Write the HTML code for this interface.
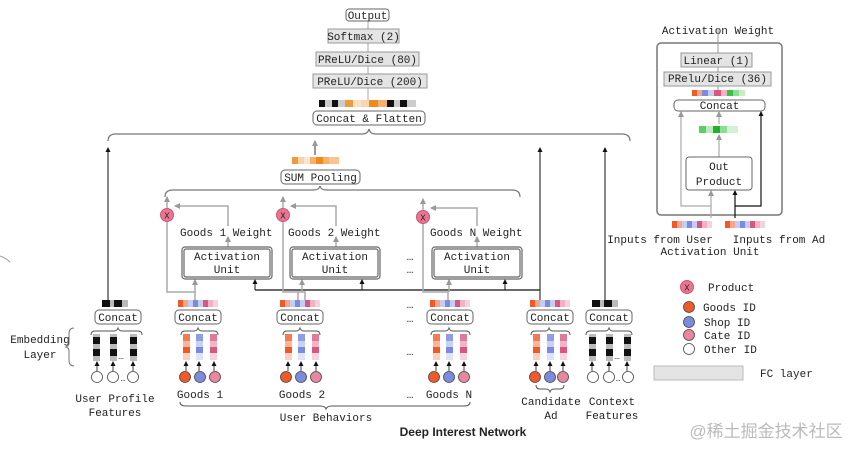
<!DOCTYPE html>
<html><head><meta charset="utf-8"><style>
html,body{margin:0;padding:0;background:#fff;}
svg{display:block;}
text{font-family:"Liberation Mono",monospace;font-size:11px;fill:#222;}
</style></head><body>
<svg width="862" height="456" viewBox="0 0 862 456" xmlns="http://www.w3.org/2000/svg">
<defs>
<marker id="ag" markerWidth="6" markerHeight="6" refX="5" refY="3" orient="auto" markerUnits="userSpaceOnUse" viewBox="0 0 6 6"><path d="M0,0 L6,3 L0,6z" fill="#999"/></marker>
<marker id="ab" markerWidth="5" markerHeight="5" refX="4" refY="2.5" orient="auto" markerUnits="userSpaceOnUse" viewBox="0 0 5 5"><path d="M0,0 L5,2.5 L0,5z" fill="#111"/></marker>
<g id="co"><rect x="0" y="0" width="7" height="7" fill="#f47a52"/><rect x="0" y="7" width="7" height="6" fill="#f8b59c"/><rect x="0" y="13" width="7" height="6" fill="#f05a28"/><rect x="0" y="19" width="7" height="7" fill="#fbd0c0"/></g>
<g id="cb"><rect x="0" y="0" width="7" height="7" fill="#8f9de3"/><rect x="0" y="7" width="7" height="6" fill="#c9d0f3"/><rect x="0" y="13" width="7" height="6" fill="#7b8cde"/><rect x="0" y="19" width="7" height="7" fill="#dfe3f8"/></g>
<g id="cp"><rect x="0" y="0" width="7" height="7" fill="#e07a99"/><rect x="0" y="7" width="7" height="6" fill="#f0b5c6"/><rect x="0" y="13" width="7" height="6" fill="#d9577f"/><rect x="0" y="19" width="7" height="7" fill="#f6d2dd"/></g>
<g id="ck"><rect x="0" y="0" width="7" height="7" fill="#bbb"/><rect x="0" y="3" width="7" height="7" fill="#111"/><rect x="0" y="10" width="7" height="6" fill="#bbb"/><rect x="0" y="15" width="7" height="7" fill="#111"/><rect x="0" y="22" width="7" height="5" fill="#bbb"/></g>
<g id="sg"><rect x="0" y="0" width="5" height="7" fill="#f05a28"/><rect x="5" y="0" width="5" height="7" fill="#f7a58a"/><rect x="10" y="0" width="5" height="7" fill="#c5cdf2"/><rect x="15" y="0" width="5" height="7" fill="#7b8cde"/><rect x="20" y="0" width="5" height="7" fill="#c5cdf2"/><rect x="25" y="0" width="5" height="7" fill="#d9577f"/><rect x="30" y="0" width="5" height="7" fill="#f0b2c4"/><rect x="35" y="0" width="5" height="7" fill="#f6d2dd"/></g>
<g id="sk"><rect x="0" y="0" width="8" height="7" fill="#111"/><rect x="8" y="0" width="4" height="7" fill="#bbb"/><rect x="12" y="0" width="8" height="7" fill="#111"/><rect x="20" y="0" width="6" height="7" fill="#bbb"/></g>
</defs>

<!-- top stack -->
<line x1="368" y1="15" x2="368" y2="104" stroke="#aaa" stroke-width="1"/>
<rect x="346" y="9" width="43" height="12" rx="3" fill="#fff" stroke="#666"/>
<text x="367.5" y="19" text-anchor="middle">Output</text>
<rect x="328" y="29" width="71" height="14" fill="#e4e4e4" stroke="#999"/>
<text x="363.5" y="40" text-anchor="middle">Softmax (2)</text>
<rect x="316" y="52" width="103" height="14" fill="#e4e4e4" stroke="#999"/>
<text x="367.5" y="63" text-anchor="middle">PReLU/Dice (80)</text>
<rect x="313" y="74" width="114" height="14" fill="#e4e4e4" stroke="#999"/>
<text x="370" y="85" text-anchor="middle">PReLU/Dice (200)</text>
<g>
<rect x="319" y="100" width="6" height="7" fill="#111"/><rect x="325" y="100" width="7" height="7" fill="#ccc"/><rect x="332" y="100" width="6" height="7" fill="#111"/><rect x="338" y="100" width="7" height="7" fill="#ccc"/><rect x="345" y="100" width="8" height="7" fill="#f09a3c"/><rect x="353" y="100" width="8" height="7" fill="#fbe0c4"/><rect x="361" y="100" width="8" height="7" fill="#fcd5b0"/><rect x="369" y="100" width="9" height="7" fill="#ee8a1e"/><rect x="378" y="100" width="9" height="7" fill="#f6b26c"/><rect x="387" y="100" width="7" height="7" fill="#111"/><rect x="394" y="100" width="6" height="7" fill="#ccc"/><rect x="400" y="100" width="7" height="7" fill="#111"/><rect x="407" y="100" width="9" height="7" fill="#ccc"/>
</g>
<rect x="313" y="111" width="112" height="14" rx="4" fill="#fff" stroke="#666"/>
<text x="369" y="122" text-anchor="middle">Concat &amp; Flatten</text>
<path d="M108,141 Q108,134 116,134 L362,134 Q368,134 369,129 Q370,134 376,134 L622,134 Q630,134 630,141" fill="none" stroke="#777" stroke-width="1.2"/>

<line x1="108" y1="300" x2="108" y2="148" stroke="#111" marker-end="url(#ab)"/>
<line x1="540" y1="300" x2="540" y2="148" stroke="#111" marker-end="url(#ab)"/>
<line x1="605" y1="300" x2="605" y2="148" stroke="#111" marker-end="url(#ab)"/>

<line x1="315" y1="155" x2="315" y2="141" stroke="#999" stroke-width="2" marker-end="url(#ag)"/>
<g><rect x="292" y="157" width="6" height="7" fill="#f09a3c"/><rect x="298" y="157" width="6" height="7" fill="#fbd2a8"/><rect x="304" y="157" width="6" height="7" fill="#fde6d0"/><rect x="310" y="157" width="6" height="7" fill="#f6b26c"/><rect x="316" y="157" width="7" height="7" fill="#ee8a1e"/><rect x="323" y="157" width="6" height="7" fill="#f6b26c"/><rect x="329" y="157" width="10" height="7" fill="#f9c48f"/></g>
<rect x="281" y="170" width="79" height="14" rx="4" fill="#fff" stroke="#666"/>
<text x="320.5" y="181" text-anchor="middle">SUM Pooling</text>
<path d="M165,197 Q165,190 173,190 L314,190 Q319,190 320,186 Q321,190 326,190 L512,190 Q520,190 520,197" fill="none" stroke="#777" stroke-width="1.2"/>

<polyline points="255,290 540,290" fill="none" stroke="#111" stroke-width="1.2"/>
<line x1="255" y1="290" x2="255" y2="280" stroke="#111" marker-end="url(#ab)"/>
<line x1="362" y1="290" x2="362" y2="280" stroke="#111" marker-end="url(#ab)"/>
<line x1="505" y1="290" x2="505" y2="280" stroke="#111" marker-end="url(#ab)"/>

<g stroke="#aaa" stroke-width="1.5" fill="none">
<polyline points="195,300 195,292 167,292 167,222"/>
<line x1="195" y1="292" x2="195" y2="280" marker-end="url(#ag)"/>
<line x1="228" y1="247" x2="228" y2="237" marker-end="url(#ag)"/>
<polyline points="228,226 228,206 175,206" marker-end="url(#ag)"/>
<line x1="167" y1="208" x2="167" y2="197" marker-end="url(#ag)"/>
<polyline points="305,300 305,292 283,292 283,222"/>
<polyline points="298,300 298,292"/>
<line x1="302" y1="292" x2="302" y2="280" marker-end="url(#ag)"/>
<line x1="336" y1="247" x2="336" y2="237" marker-end="url(#ag)"/>
<polyline points="336,226 336,206 291,206" marker-end="url(#ag)"/>
<line x1="283" y1="208" x2="283" y2="197" marker-end="url(#ag)"/>
<polyline points="448,300 448,292 423,292 423,224"/>
<line x1="449" y1="292" x2="449" y2="280" marker-end="url(#ag)"/>
<line x1="477" y1="247" x2="477" y2="237" marker-end="url(#ag)"/>
<polyline points="477,226 477,208 431,208" marker-end="url(#ag)"/>
<line x1="423" y1="210" x2="423" y2="199" marker-end="url(#ag)"/>
</g>
<g fill="#e8768f" stroke="#d05575"><circle cx="167" cy="215" r="6.5"/><circle cx="283" cy="215" r="6.5"/><circle cx="423" cy="217" r="6.5"/></g>
<text x="167" y="218.5" text-anchor="middle" style="font-size:9px">X</text><text x="283" y="218.5" text-anchor="middle" style="font-size:9px">X</text><text x="423" y="220.5" text-anchor="middle" style="font-size:9px">X</text>
<text x="180" y="236">Goods 1 Weight</text>
<text x="288" y="236">Goods 2 Weight</text>
<text x="430" y="236">Goods N Weight</text>
<g fill="#fff" stroke="#666" stroke-width="1.2">
<rect x="182" y="247" width="90" height="32" rx="3"/><rect x="184" y="249" width="86" height="28" rx="2"/>
<rect x="290" y="247" width="90" height="32" rx="3"/><rect x="292" y="249" width="86" height="28" rx="2"/>
<rect x="432" y="247" width="90" height="32" rx="3"/><rect x="434" y="249" width="86" height="28" rx="2"/>
</g>
<text x="227" y="260" text-anchor="middle">Activation</text><text x="227" y="273" text-anchor="middle">Unit</text>
<text x="335" y="260" text-anchor="middle">Activation</text><text x="335" y="273" text-anchor="middle">Unit</text>
<text x="477" y="260" text-anchor="middle">Activation</text><text x="477" y="273" text-anchor="middle">Unit</text>
<g fill="#666"><text x="410" y="260" text-anchor="middle">…</text><text x="410" y="273" text-anchor="middle">…</text><text x="410" y="308" text-anchor="middle">…</text><text x="410" y="322" text-anchor="middle">…</text><text x="410" y="355" text-anchor="middle">…</text><text x="410" y="398" text-anchor="middle">…</text></g>

<use href="#sk" x="102" y="300"/>
<use href="#sg" x="178" y="300"/>
<use href="#sg" x="280" y="300"/>
<use href="#sg" x="430" y="300"/>
<use href="#sg" x="530" y="300"/>
<use href="#sk" x="592" y="300"/>
<g fill="#fff" stroke="#666">
<rect x="95" y="310" width="46" height="14" rx="4"/>
<rect x="175" y="310" width="46" height="14" rx="4"/>
<rect x="277" y="310" width="46" height="14" rx="4"/>
<rect x="427" y="310" width="46" height="14" rx="4"/>
<rect x="527" y="310" width="46" height="14" rx="4"/>
<rect x="586" y="310" width="46" height="14" rx="4"/>
</g>
<text x="118" y="321" text-anchor="middle">Concat</text>
<text x="198" y="321" text-anchor="middle">Concat</text>
<text x="300" y="321" text-anchor="middle">Concat</text>
<text x="450" y="321" text-anchor="middle">Concat</text>
<text x="550" y="321" text-anchor="middle">Concat</text>
<text x="609" y="321" text-anchor="middle">Concat</text>
<g fill="none" stroke="#555" stroke-width="1">
<path d="M91,335 Q91,331 95,331 L114,331 Q117,331 118,328 Q119,331 122,331 L138,331 Q142,331 142,335"/>
<path d="M181,335 Q181,331 185,331 L194,331 Q197,331 198,328 Q199,331 202,331 L214,331 Q218,331 218,335"/>
<path d="M283,335 Q283,331 287,331 L296,331 Q299,331 300,328 Q301,331 304,331 L316,331 Q320,331 320,335"/>
<path d="M431,335 Q431,331 435,331 L445,331 Q448,331 449,328 Q450,331 453,331 L466,331 Q470,331 470,335"/>
<path d="M531,335 Q531,331 535,331 L545,331 Q548,331 549,328 Q550,331 553,331 L566,331 Q570,331 570,335"/>
<path d="M586,335 Q586,331 590,331 L605,331 Q608,331 609,328 Q610,331 613,331 L628,331 Q632,331 632,335"/>
</g>
<use href="#ck" x="93" y="334"/><use href="#ck" x="110" y="334"/><use href="#ck" x="130" y="334"/>
<use href="#co" x="183" y="334"/><use href="#cb" x="196" y="334"/><use href="#cp" x="210" y="334"/>
<use href="#co" x="285" y="334"/><use href="#cb" x="298" y="334"/><use href="#cp" x="312" y="334"/>
<use href="#co" x="433" y="334"/><use href="#cb" x="446" y="334"/><use href="#cp" x="460" y="334"/>
<use href="#co" x="533" y="334"/><use href="#cb" x="547" y="334"/><use href="#cp" x="560" y="334"/>
<use href="#ck" x="589" y="334"/><use href="#ck" x="606" y="334"/><use href="#ck" x="624" y="334"/>
<g fill="#555"><text x="121" y="359" text-anchor="middle" style="font-size:9px">…</text><text x="617" y="359" text-anchor="middle" style="font-size:9px">…</text></g>
<g stroke="#111" stroke-width="0.8">
<line x1="97" y1="371" x2="97" y2="362" marker-end="url(#ab)"/><line x1="113" y1="371" x2="113" y2="362" marker-end="url(#ab)"/><line x1="133" y1="371" x2="133" y2="362" marker-end="url(#ab)"/>
<line x1="186" y1="371" x2="186" y2="362" marker-end="url(#ab)"/><line x1="199" y1="371" x2="199" y2="362" marker-end="url(#ab)"/><line x1="214" y1="371" x2="214" y2="362" marker-end="url(#ab)"/>
<line x1="288" y1="371" x2="288" y2="362" marker-end="url(#ab)"/><line x1="301" y1="371" x2="301" y2="362" marker-end="url(#ab)"/><line x1="316" y1="371" x2="316" y2="362" marker-end="url(#ab)"/>
<line x1="436" y1="371" x2="436" y2="362" marker-end="url(#ab)"/><line x1="449" y1="371" x2="449" y2="362" marker-end="url(#ab)"/><line x1="464" y1="371" x2="464" y2="362" marker-end="url(#ab)"/>
<line x1="536" y1="371" x2="536" y2="362" marker-end="url(#ab)"/><line x1="550" y1="371" x2="550" y2="362" marker-end="url(#ab)"/><line x1="563" y1="371" x2="563" y2="362" marker-end="url(#ab)"/>
<line x1="592" y1="371" x2="592" y2="362" marker-end="url(#ab)"/><line x1="609" y1="371" x2="609" y2="362" marker-end="url(#ab)"/><line x1="627" y1="371" x2="627" y2="362" marker-end="url(#ab)"/>
</g>
<g stroke="#444" stroke-width="0.8">
<circle cx="97" cy="377" r="5.5" fill="#fff"/><circle cx="113" cy="377" r="5.5" fill="#fff"/><circle cx="133" cy="377" r="5.5" fill="#fff"/>
<circle cx="185" cy="377" r="5.5" fill="#f05a28"/><circle cx="200" cy="377" r="5.5" fill="#7b8cde"/><circle cx="215" cy="377" r="5.5" fill="#e8879f"/>
<circle cx="286" cy="377" r="5.5" fill="#f05a28"/><circle cx="301" cy="377" r="5.5" fill="#7b8cde"/><circle cx="316" cy="377" r="5.5" fill="#e8879f"/>
<circle cx="434" cy="377" r="5.5" fill="#f05a28"/><circle cx="449" cy="377" r="5.5" fill="#7b8cde"/><circle cx="464" cy="377" r="5.5" fill="#e8879f"/>
<circle cx="535" cy="377" r="5.5" fill="#f05a28"/><circle cx="550" cy="377" r="5.5" fill="#7b8cde"/><circle cx="563" cy="377" r="5.5" fill="#e8879f"/>
<circle cx="593" cy="377" r="5.5" fill="#fff"/><circle cx="609" cy="377" r="5.5" fill="#fff"/><circle cx="628" cy="377" r="5.5" fill="#fff"/>
</g>
<text x="123" y="381" text-anchor="middle" style="font-size:8px">…</text>
<text x="618" y="381" text-anchor="middle" style="font-size:8px">…</text>
<path d="M536,385 Q536,389 540,389 L546,389 Q549,389 550,392 Q551,389 554,389 L560,389 Q564,389 564,385" fill="none" stroke="#555"/>
<text x="115" y="402" text-anchor="middle">User Profile</text>
<text x="115" y="416" text-anchor="middle">Features</text>
<text x="200" y="398" text-anchor="middle">Goods 1</text>
<text x="302" y="398" text-anchor="middle">Goods 2</text>
<text x="449" y="398" text-anchor="middle">Goods N</text>
<path d="M180,402 Q180,406 186,406 L320,406 Q325,406 326,409 Q327,406 332,406 L464,406 Q470,406 470,402" fill="none" stroke="#555"/>
<text x="326" y="421" text-anchor="middle">User Behaviors</text>
<text x="551" y="405" text-anchor="middle">Candidate</text>
<text x="551" y="419" text-anchor="middle">Ad</text>
<text x="612" y="405" text-anchor="middle">Context</text>
<text x="612" y="419" text-anchor="middle">Features</text>
<text x="463" y="436" text-anchor="middle" style="font-family:'Liberation Sans',sans-serif;font-weight:bold;font-size:12px">Deep Interest Network</text>
<text x="40" y="343" text-anchor="middle">Embedding</text>
<text x="40" y="358" text-anchor="middle">Layer</text>
<path d="M74,328 Q69,328 69,334 L69,343 Q69,346 66,347 Q69,348 69,351 L69,360 Q69,366 74,366" fill="none" stroke="#777"/>

<circle cx="687" cy="287" r="6.5" fill="#e8768f" stroke="#d05575"/>
<text x="687" y="290.5" text-anchor="middle" style="font-size:9px">X</text>
<text x="708" y="291">Product</text>
<g stroke="#444" stroke-width="0.8">
<circle cx="689" cy="307" r="5.5" fill="#f05a28"/><circle cx="689" cy="322" r="5.5" fill="#7b8cde"/><circle cx="689" cy="335" r="5.5" fill="#e8879f"/><circle cx="689" cy="349" r="5.5" fill="#fff"/>
</g>
<text x="703" y="311">Goods ID</text>
<text x="704" y="326">Shop ID</text>
<text x="704" y="339">Cate ID</text>
<text x="704" y="353">Other ID</text>
<rect x="654" y="366" width="89" height="14" fill="#e4e4e4" stroke="#bbb"/>
<text x="760" y="377">FC layer</text>

<text x="718" y="34" text-anchor="middle">Activation Weight</text>
<rect x="657" y="43" width="125" height="172" rx="4" fill="#fff" stroke="#777" stroke-width="1.5"/>
<line x1="718" y1="92" x2="718" y2="28" stroke="#999"/>
<rect x="681" y="53" width="71" height="14" fill="#e4e4e4" stroke="#999"/>
<text x="716.5" y="64" text-anchor="middle">Linear (1)</text>
<rect x="664" y="72" width="107" height="14" fill="#e4e4e4" stroke="#999"/>
<text x="717.5" y="82" text-anchor="middle">PRelu/Dice (36)</text>
<g><rect x="692" y="90" width="5" height="6" fill="#f05a28"/><rect x="697" y="90" width="5" height="6" fill="#f7a58a"/><rect x="702" y="90" width="6" height="6" fill="#7b8cde"/><rect x="708" y="90" width="6" height="6" fill="#c5cdf2"/><rect x="714" y="90" width="7" height="6" fill="#d9577f"/><rect x="721" y="90" width="6" height="6" fill="#f0b2c4"/><rect x="727" y="90" width="6" height="6" fill="#3cc04a"/><rect x="733" y="90" width="6" height="6" fill="#8be08f"/><rect x="739" y="90" width="6" height="6" fill="#c4efc6"/></g>
<rect x="674" y="100" width="91" height="11" rx="4" fill="#fff" stroke="#666"/>
<text x="719.5" y="109" text-anchor="middle">Concat</text>
<g><rect x="699" y="126" width="7" height="7" fill="#5ccf63"/><rect x="706" y="126" width="7" height="7" fill="#bde9bf"/><rect x="713" y="126" width="7" height="7" fill="#22b02f"/><rect x="720" y="126" width="7" height="7" fill="#8be08f"/><rect x="727" y="126" width="11" height="7" fill="#d3f2d5"/></g>
<g stroke="#aaa" stroke-width="1.2" fill="none">
<line x1="719" y1="124" x2="719" y2="112" marker-end="url(#ag)"/>
<line x1="719" y1="157" x2="719" y2="135" marker-end="url(#ag)"/>
<polyline points="711,218 711,206 681,206 681,112" marker-end="url(#ag)"/>
<line x1="711" y1="206" x2="711" y2="191" marker-end="url(#ag)"/>
</g>
<g stroke="#111" stroke-width="1.2" fill="none">
<polyline points="735,218 735,206 761,206 761,112" marker-end="url(#ab)"/>
<line x1="735" y1="206" x2="735" y2="191" marker-end="url(#ab)"/>
</g>
<rect x="686" y="157" width="66" height="33" rx="3" fill="#fff" stroke="#666"/>
<text x="719" y="170" text-anchor="middle">Out</text>
<text x="719" y="185" text-anchor="middle">Product</text>
<use href="#sg" x="672" y="221"/>
<use href="#sg" x="725" y="221"/>
<text x="660" y="243" text-anchor="middle">Inputs from User</text>
<text x="779" y="243" text-anchor="middle">Inputs from Ad</text>
<text x="710" y="255" text-anchor="middle">Activation Unit</text>

<text x="766" y="437" text-anchor="middle" style="font-family:'Liberation Sans','Noto Sans CJK SC',sans-serif;font-size:17px;fill:#bbb">@稀土掘金技术社区</text>
<path d="M0,256 Q6,258 10,262" fill="none" stroke="#999"/>
</svg>
</body></html>
